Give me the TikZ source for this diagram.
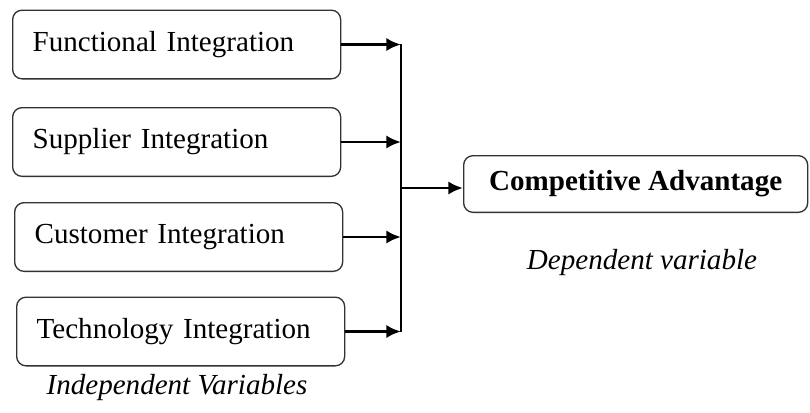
\documentclass[tikz,border=0pt]{standalone}
\usepackage{fontspec}
\setmainfont{Liberation Serif}
\usetikzlibrary{arrows.meta,positioning}
\definecolor{frame}{HTML}{333333}

\begin{document}
\begin{tikzpicture}[x=0.75pt,y=-0.75pt,
  varbox/.style={draw=frame, line width=1pt, rounded corners=7pt, anchor=west,
    text width=216pt, inner xsep=15pt, minimum height=51.5pt, align=left,
    font=\fontsize{21.8}{25}\selectfont},
  outbox/.style={draw=frame, line width=1pt, rounded corners=7pt, anchor=north west,
    minimum width=258pt, minimum height=42.5pt, align=center,
    font=\fontsize{21.8}{25}\selectfont\bfseries},
  caption/.style={font=\fontsize{21.8}{25}\selectfont\itshape},
  link/.style={line width=2.2pt, -{Latex[length=11pt,width=10pt]}}]
  \useasboundingbox (0,0) rectangle (810,412);

  % independent variables
  \node[varbox] (func) at (12,44.5) {Functional Integration};
  \node[varbox] (supp) at (12,142) {Supplier Integration};
  \node[varbox] (cust) at (14,237) {Customer Integration};
  \node[varbox] (tech) at (16,331.5) {Technology Integration};
  \node[caption] (indep) at (177,388) {Independent Variables};

  % collecting line
  \coordinate (top) at (401,44);
  \coordinate (bot) at (401,332);
  \coordinate (mid) at (401,188);
  \draw[line width=1.3pt] (top) -- (bot);
  \foreach \v in {func,supp,cust,tech}
    \draw[link] (\v) -- (\v -| top);

  % dependent variable
  \node[outbox] (comp) at (463,155) {Competitive Advantage};
  \node[caption] (dep) at (642,263) {Dependent variable};
  \draw[link] (mid) -- (mid -| comp.west);
\end{tikzpicture}
\end{document}
